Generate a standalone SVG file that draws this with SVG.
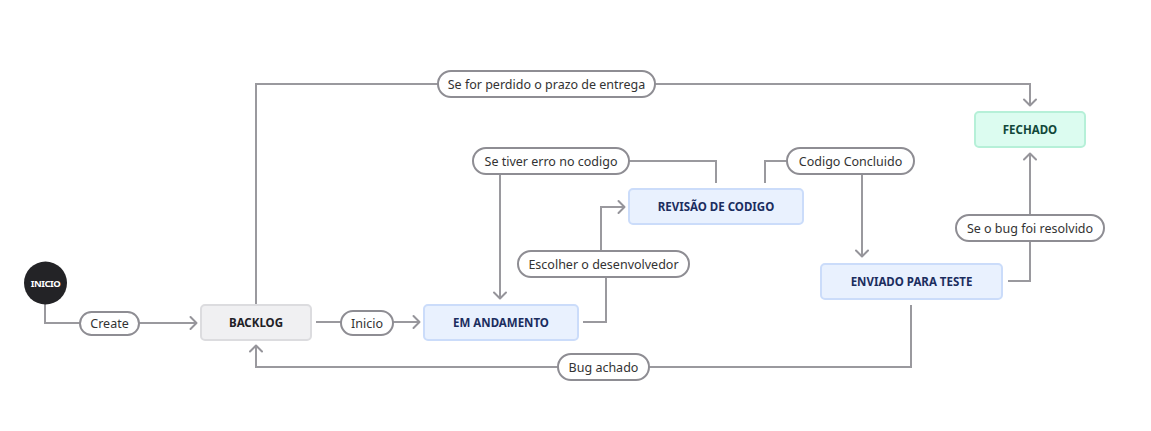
<svg xmlns="http://www.w3.org/2000/svg" width="1151" height="431" viewBox="0 0 1151 431">
<defs>
<marker id="arr" markerUnits="userSpaceOnUse" markerWidth="10" markerHeight="16" viewBox="0 0 10 16" refX="8" refY="8" orient="auto">
<path d="M1.5,2 L7.5,8 L1.5,14" fill="none" stroke="#95949a" stroke-width="2" stroke-linecap="round" stroke-linejoin="round"/>
</marker>
</defs>
<style>
.c{fill:none;stroke:#9a999e;stroke-width:2;stroke-linejoin:miter}
.a{marker-end:url(#arr)}
.pill{fill:#ffffff;stroke:#8e8d93;stroke-width:2}
.pt{font-family:"Noto Sans","Open Sans",sans-serif;font-size:12.5px;fill:#333333;text-anchor:middle;dominant-baseline:central}
.nt{font-family:"Noto Sans","Open Sans",sans-serif;font-size:11.5px;font-weight:bold;text-anchor:middle;dominant-baseline:central}
.blue{fill:#e9f1fe;stroke:#cbdcfa;stroke-width:2}
</style>
<rect width="1151" height="431" fill="#ffffff"/>
<g id="connectors">
<path class="c a" d="M45,304 V323 H197"/>
<path class="c a" d="M256,304 V84 H1030 V106"/>
<path class="c a" d="M316,322 H420"/>
<path class="c a" d="M583,322 H606 V264 H601 V207 H625"/>
<path class="c a" d="M716,183 V161 H500 V299"/>
<path class="c a" d="M765,183 V161 H862 V257"/>
<path class="c a" d="M1008,281 H1030 V153"/>
<path class="c a" d="M911,305 V367 H256 V345"/>
<g id="labels">
<rect class="pill" x="80" y="312" width="59" height="23" rx="11.5"/>
<text class="pt" x="109.5" y="323.5">Create</text>
<rect class="pill" x="438" y="71" width="217" height="26" rx="13"/>
<text class="pt" x="546.5" y="84">Se for perdido o prazo de entrega</text>
<rect class="pill" x="341" y="311" width="52" height="24" rx="12"/>
<text class="pt" x="367" y="323">Inicio</text>
<rect class="pill" x="518" y="251" width="171" height="26" rx="13"/>
<text class="pt" x="603.5" y="264">Escolher o desenvolvedor</text>
<rect class="pill" x="473" y="148" width="156" height="26" rx="13"/>
<text class="pt" x="551" y="161">Se tiver erro no codigo</text>
<rect class="pill" x="787" y="148" width="127" height="26" rx="13"/>
<text class="pt" x="850.5" y="161">Codigo Concluido</text>
<rect class="pill" x="956" y="215" width="148" height="26" rx="13"/>
<text class="pt" x="1030" y="228">Se o bug foi resolvido</text>
<rect class="pill" x="558" y="354" width="91" height="26" rx="13"/>
<text class="pt" x="603.5" y="367">Bug achado</text>
</g>
</g>
<g id="inicio">
<circle cx="45.5" cy="283" r="21.5" fill="#232326"/>
<text x="45.5" y="283" font-family="'Noto Sans',sans-serif" font-size="9.5" font-weight="bold" fill="#ffffff" text-anchor="middle" dominant-baseline="central" letter-spacing="-0.5">INICIO</text>
</g>
<g id="backlog">
<rect x="201" y="305" width="110" height="35" rx="4" fill="#f0f0f2" stroke="#dcdcdf" stroke-width="2"/>
<text class="nt" x="256" y="322.5" fill="#1f2126">BACKLOG</text>
</g>
<g id="em-andamento">
<rect class="blue" x="424" y="305" width="154" height="35" rx="4"/>
<text class="nt" x="501" y="322.5" fill="#1b2d5e">EM ANDAMENTO</text>
</g>
<g id="revisao">
<rect class="blue" x="629" y="189" width="174" height="35" rx="4"/>
<text class="nt" x="716" y="206.5" fill="#1b2d5e">REVISÃO DE CODIGO</text>
</g>
<g id="enviado">
<rect class="blue" x="821" y="264" width="181" height="35" rx="4"/>
<text class="nt" x="911.5" y="281.5" fill="#1b2d5e">ENVIADO PARA TESTE</text>
</g>
<g id="fechado">
<rect x="975" y="112" width="110" height="35" rx="4" fill="#dcfcf0" stroke="#b6f0d8" stroke-width="2"/>
<text class="nt" x="1030" y="129.5" fill="#11483a">FECHADO</text>
</g>
</svg>
